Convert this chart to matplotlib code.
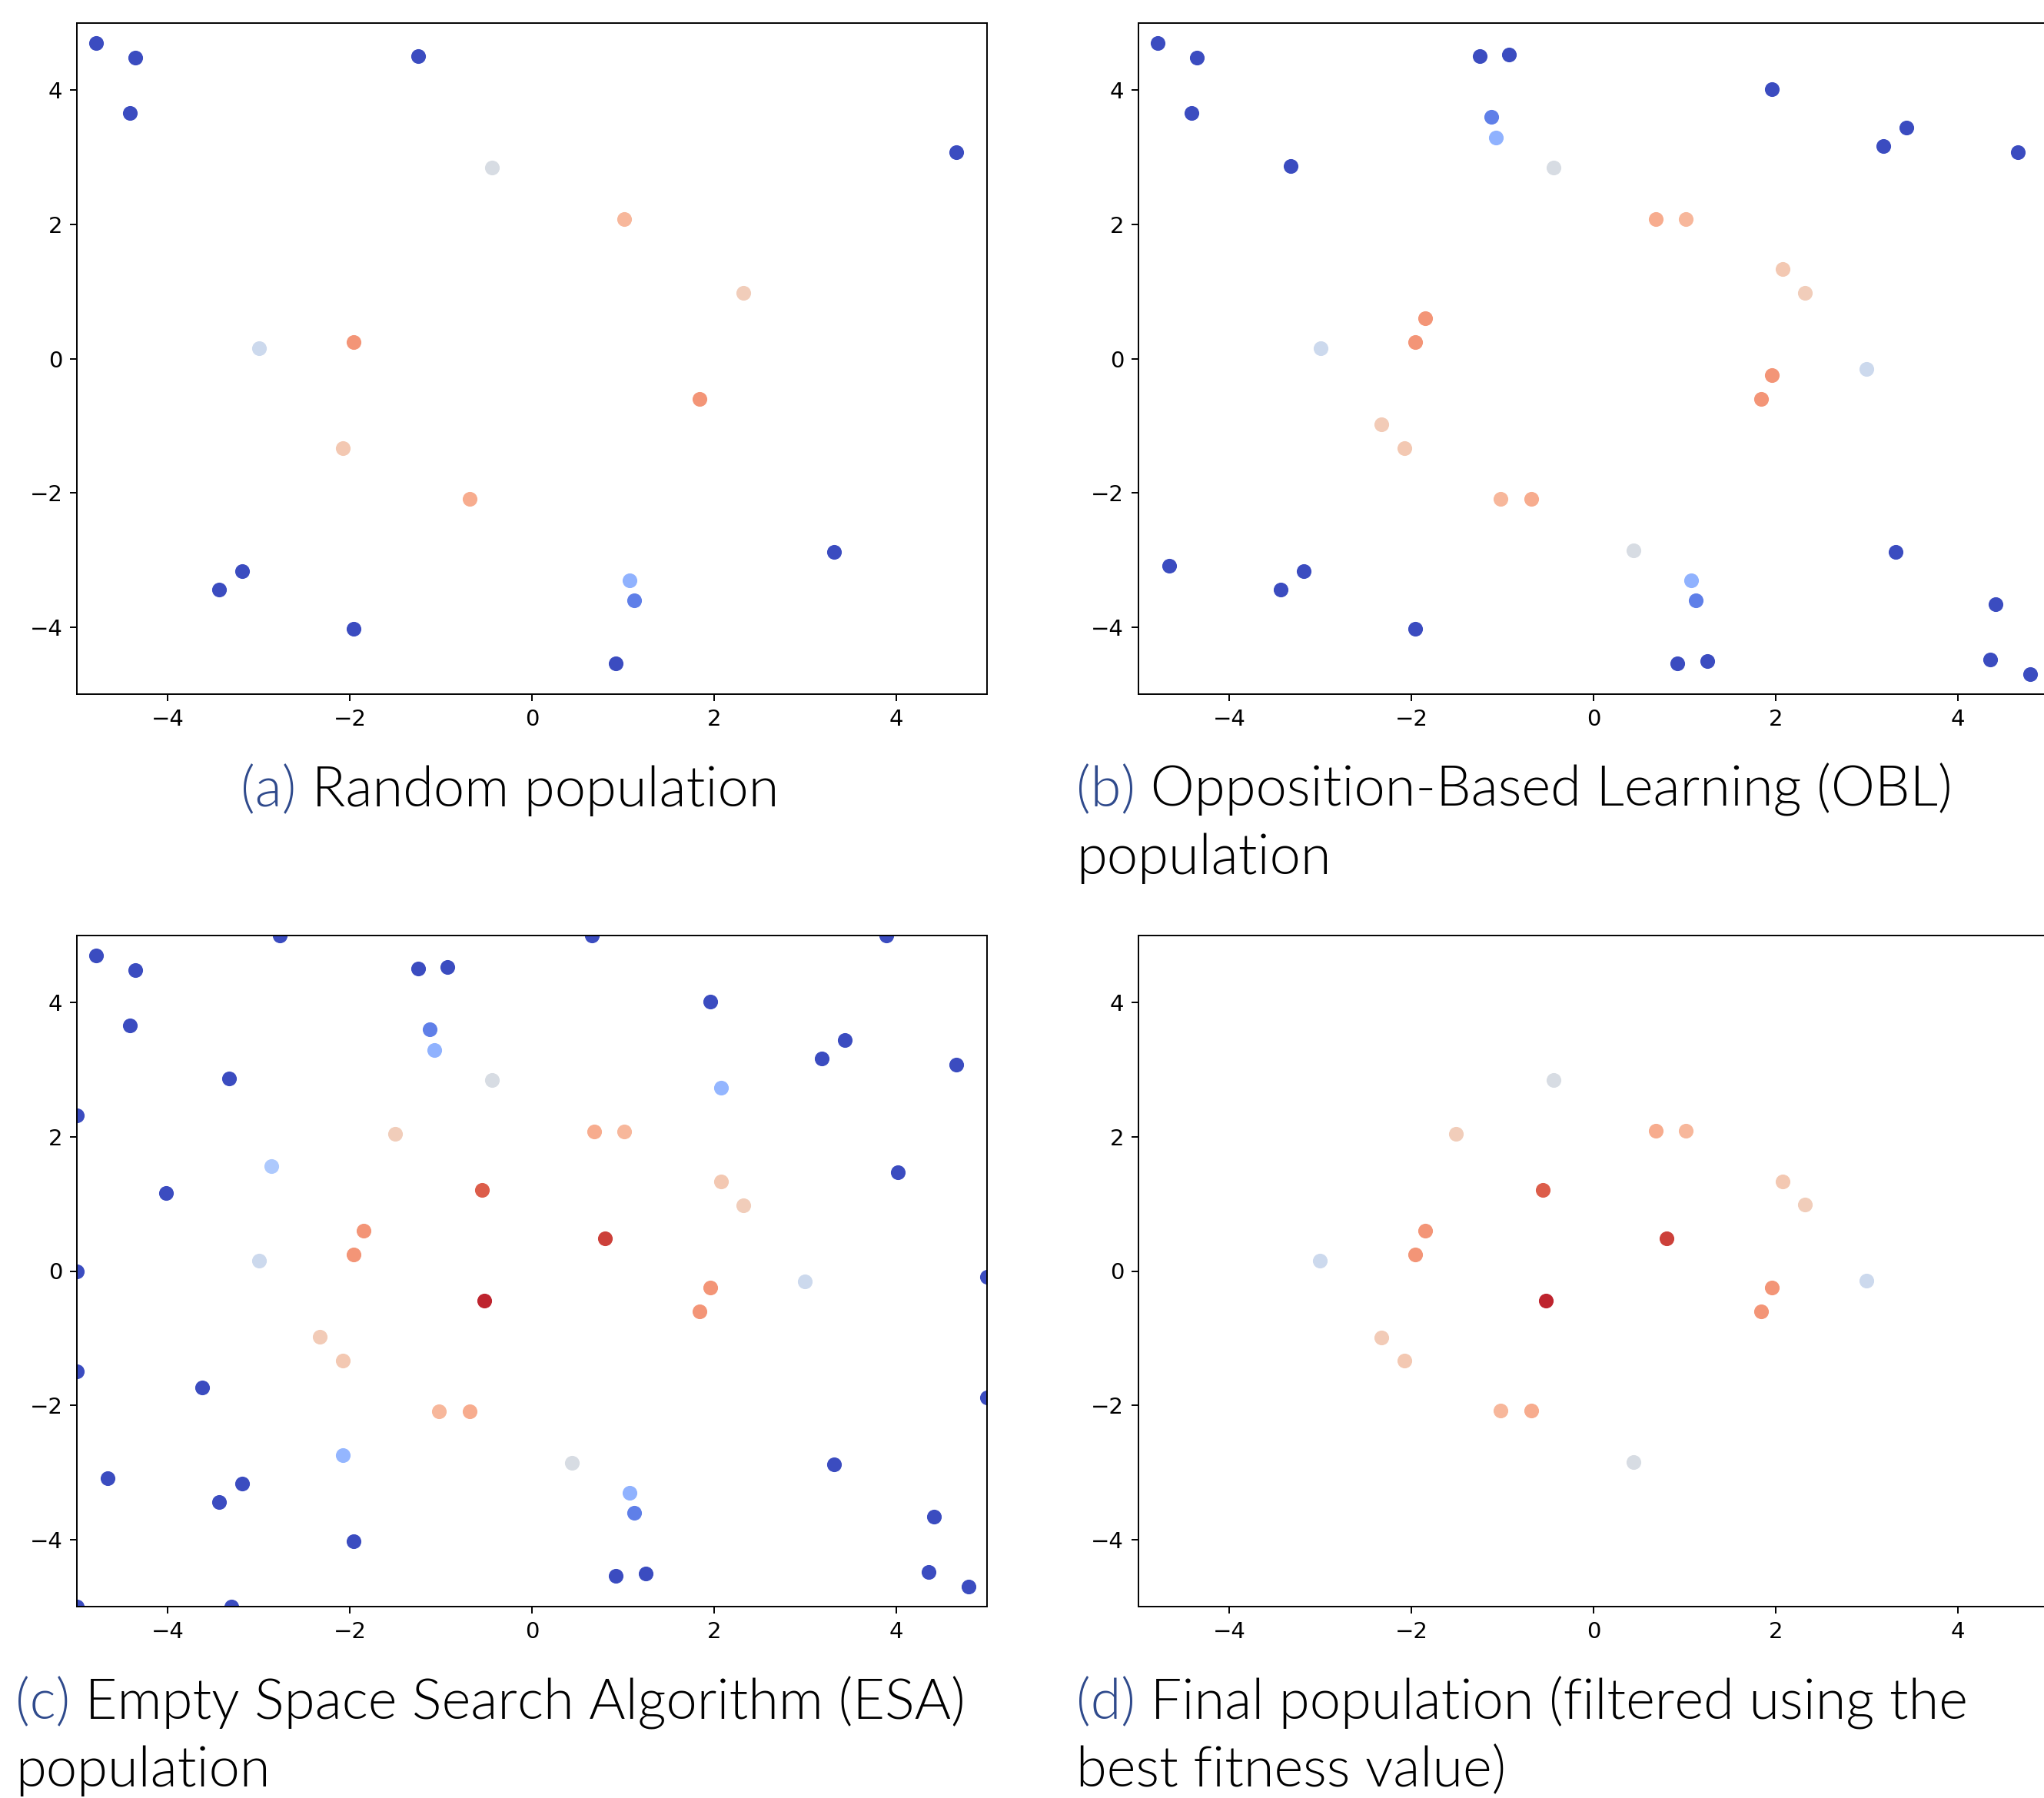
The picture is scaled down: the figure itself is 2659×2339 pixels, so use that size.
import matplotlib.pyplot as plt
from matplotlib import font_manager
from matplotlib.transforms import IdentityTransform

# (a) random population
rand_x = [-4.79, -4.36, -4.42, -1.25, -0.44, 4.66, 1.01, 2.32, -3.00, -1.96,
          1.84, -2.08, -0.68, 3.32, -3.18, -3.44, 1.07, 1.12, -1.96, 0.92]
rand_y = [4.70, 4.48, 3.66, 4.51, 2.85, 3.08, 2.08, 0.98, 0.15, 0.25,
          -0.60, -1.33, -2.09, -2.88, -3.17, -3.44, -3.30, -3.60, -4.03, -4.54]
rand_f = [0, 0, 0, 0, 0.48, 0, 0.67, 0.59, 0.44, 0.76,
          0.76, 0.61, 0.70, 0, 0, 0, 0.26, 0.12, 0, 0]

# opposite points added by OBL
obl_x = [4.80, 4.42, 4.36, 1.25, 0.44, -4.66, -1.02, -2.33, 3.00, 1.96,
         -1.85, 2.08, 0.68, -3.33, 3.18, 3.44, -1.07, -1.12, 1.96, -0.93]
obl_y = [-4.70, -3.66, -4.49, -4.51, -2.86, -3.09, -2.09, -0.98, -0.15, -0.25,
         0.60, 1.33, 2.08, 2.87, 3.17, 3.44, 3.29, 3.60, 4.02, 4.53]
obl_f = [0, 0, 0, 0, 0.48, 0, 0.67, 0.60, 0.44, 0.76,
         0.76, 0.61, 0.70, 0, 0, 0, 0.26, 0.12, 0, 0]

# points added by ESA
esa_x = [-2.77, 0.66, 3.89, -5.0, -2.86, -4.02, -1.50, -0.55, 0.80, -0.52,
         2.08, 4.02, -5.0, 5.0, -5.0, -3.62, 5.0, -2.08, -5.0, -3.30]
esa_y = [5.0, 5.0, 5.0, 2.32, 1.56, 1.16, 2.05, 1.21, 0.49, -0.44,
         2.73, 1.47, 0.0, -0.09, -1.50, -1.74, -1.88, -2.74, -5.0, -5.0]
esa_f = [0, 0, 0, 0, 0.34, 0, 0.59, 0.88, 0.93, 0.97,
         0.27, 0, 0, 0, 0, 0, 0, 0.27, 0, 0]

# (d) final population
final_x = [-0.44, -1.51, 0.68, 1.01, -0.56, 2.08, 2.32, -1.85, -1.96, 0.80,
           -3.01, 3.00, -0.52, 1.96, 1.84, -2.33, -2.08, -1.02, -0.68, 0.44]
final_y = [2.85, 2.05, 2.09, 2.09, 1.21, 1.34, 0.99, 0.60, 0.25, 0.49,
           0.15, -0.14, -0.44, -0.25, -0.60, -0.99, -1.33, -2.08, -2.08, -2.85]
final_f = [0.48, 0.59, 0.70, 0.67, 0.88, 0.61, 0.59, 0.76, 0.76, 0.93,
           0.44, 0.44, 0.97, 0.76, 0.76, 0.60, 0.61, 0.67, 0.70, 0.48]

W, H = 2659, 2339
LABEL_BLUE = '#2F4A8C'

# Lato Light for the captions if the file is there, otherwise regular Lato
light = [f.fname for f in font_manager.fontManager.ttflist
         if f.fname.endswith('Lato-Light.ttf')]
if light:
    cap_prop = font_manager.FontProperties(fname=light[0], size=52)
else:
    cap_prop = font_manager.FontProperties(family='Lato', size=52)

fig = plt.figure(figsize=(W / 100, H / 100), dpi=100)


def panel(left_px, top_px, xs, ys, fs):
    ax = fig.add_axes([left_px / W, (H - top_px - 873) / H, 1184 / W, 873 / H])
    for x, y, f in zip(xs, ys, fs):
        ax.scatter(x, y, c=f, cmap='coolwarm', vmin=0, vmax=1, s=190,
                   linewidths=0)
    ax.set_xlim(-5, 5)
    ax.set_ylim(-5, 5)
    ax.set_xticks([-4, -2, 0, 2, 4])
    ax.set_yticks([-4, -2, 0, 2, 4])
    ax.tick_params(labelsize=21, length=6.5, width=1.4, pad=7)
    for s in ax.spines.values():
        s.set_linewidth(1.4)
    return ax


panel(100, 30, rand_x, rand_y, rand_f)
panel(1481, 30, rand_x + obl_x, rand_y + obl_y, rand_f + obl_f)
panel(100, 1217, rand_x + obl_x + esa_x, rand_y + obl_y + esa_y,
      rand_f + obl_f + esa_f)
panel(1481, 1217, final_x, final_y, final_f)

renderer = fig.canvas.get_renderer()


def caption(x, baseline, label, lines, center=False, gap=88):
    lab = fig.text(x, H - baseline, label, color=LABEL_BLUE, va='baseline',
                   transform=IdentityTransform(), fontproperties=cap_prop)
    lw = lab.get_window_extent(renderer).width
    first = fig.text(x + lw, H - baseline, ' ' + lines[0], color='black',
                     va='baseline', transform=IdentityTransform(),
                     fontproperties=cap_prop)
    if center:
        total = lw + first.get_window_extent(renderer).width
        lab.set_x(x - total / 2)
        first.set_x(x - total / 2 + lw)
    for i, line in enumerate(lines[1:], start=1):
        fig.text(x, H - baseline - i * gap, line, color='black', va='baseline',
                 transform=IdentityTransform(), fontproperties=cap_prop)


caption(663, 1049, '(a)', ['Random population'], center=True)
caption(1400, 1049, '(b)', ['Opposition-Based Learning (OBL)', 'population'])
caption(20, 2236, '(c)', ['Empty Space Search Algorithm (ESA)', 'population'])
caption(1400, 2236, '(d)', ['Final population (filtered using the',
                            'best fitness value)'])

fig.savefig('out.png', dpi=100)
